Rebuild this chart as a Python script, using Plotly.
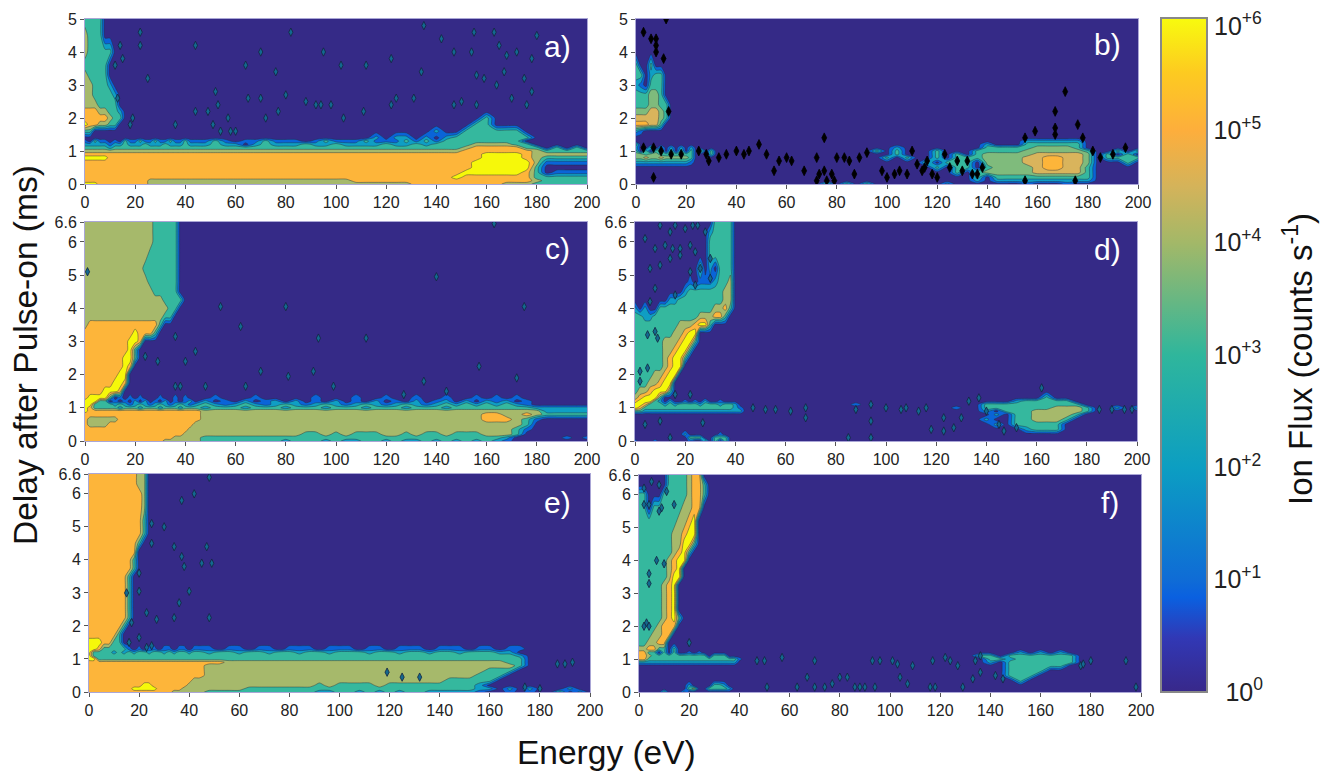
import plotly.graph_objects as go

ENERGY = [0,2,4,6,8,10,12,14,16,18,20,22,24,26,28,30,32,34,36,38,40,42,44,
          48,52,56,60,64,68,72,76,80,84,88,92,96,100,104,108,112,116,120,124,128,132,136,140,144,
          148,152,156,160,164,168,172,176,180,184,188,192,196,200]
DELAY_5 = [5,4.5,4,3.6,3.3,3,2.7,2.4,2.2,2,1.8,1.6,1.4,1.3,1.2,1.1,1,.9,.8,.65,.5,.35,.2,.1,0]
DELAY_66 = [6.6,6.3,6,5.6,5.2,4.8,4.5,4.25,4,3.75,3.5,3.25,3,2.75,2.5,2.25,2,1.75,1.5,1.3,1.2,1.1,1,.9,.8,.65,.5,.35,.2,.1,0]

# log10(flux) bands per grid cell, top row first; a row's last digit repeats to the right edge.
FLUX_A = [
"33330","43330","43333 30","33333 0","43333 0","44333 20","44333 320","44433 330",
"55544 33200 0",
"55555 43300 00000 00000 000 00000 00000 00000 00000 00000 00030 0",
"65544 33000 00000 00000 000 00000 00000 00000 00000 00000 00330 00000 0",
"33000 00000 00000 00000 000 00000 00000 00000 00000 00020 03333 33000 0",
"00000 00000 00000 00000 000 00000 00000 00000 00202 20202 33333 33300 0",
"10311 01031 13113 11311 311 13101 13111 01311 13111 31313 33333 33000 0",
"22222 12232 22322 23222 322 23220 23222 32232 22232 23233 33444 43300 0",
"33333 23333 33333 33333 333 33333 33333 33333 33333 33333 34555 55330 3030",
"44444 44444 44444 44444 444 44444 44444 44444 44444 44444 45555 55543 3333",
"55555 55555 55555 55555 555 55555 55555 55555 55555 55555 55566 66544 4444",
"66666 55555 55555 55555 555 55555 55555 55555 55555 55555 55566 66543 3333",
"55555 55555 55555 55555 555 55555 55555 55555 55555 55555 55666 66641 1111",
"55555 55555 55555 55555 555 55555 55555 55555 55555 55555 55666 66630 0000",
"55555 55555 55555 55555 555 55555 55555 55555 55555 55555 56666 66530 1111",
"55555 55555 55555 55555 555 55555 55555 55555 55555 55555 65555 55533 3333",
"55555 55555 55544 44444 444 44444 44444 44444 55555 55555 55555 55543 3333",
"66655 55555 55544 44444 444 44444 44444 44444 44444 45555 55555 44433 3333",
]
FLUX_B = [
"0","0","0","30030 0","33023 30","21033 30","33344 30","33344 330","44455 430","55555 430","66655 300","21000",
"0",
"00000 00000 00000 00000 000 00000 00000 00000 00000 00000 00222 22200 0",
"30000 00000 00000 00000 000 00000 00000 00000 00000 00020 00333 33300 0",
"20030 20202 02000 00000 000 00000 00000 00002 00000 00033 33344 44300 0",
"30303 30303 03030 30000 000 00000 00000 00303 00030 00333 33444 44430 0303",
"44344 33333 33000 30000 000 00000 00000 00003 00030 30344 44455 55540 3030",
"44544 54444 43000 00000 000 00000 00000 00030 30030 33344 44556 65540 3333",
"22222 22222 21000 00000 000 00000 00000 00000 00303 33044 44556 65540 0030",
"00000 00000 00000 00000 000 00000 00000 00000 00030 33034 44456 65530 0000",
"00000 00000 00000 00000 000 00000 00000 00000 00000 30344 44455 55530 0000",
"00000 00000 00000 00000 000 00000 00000 00000 00000 00303 33333 33330 0000",
"00000 00000 00000 00000 000 00000 00000 00000 00000 00202 22222 22220 0000",
"00000 00000 00000 00000 000 00000 00303 03000 00002 00000 00100 01000 0000",
]
FLUX_C = [
"44444 44444 44443 33330 0","44444 44444 44443 33330 0","44444 44444 44443 33330 0",
"44444 44444 44433 33330 0","44444 44444 44333 33330 0","44444 44444 44433 33330 0",
"44444 44444 44443 33330 0","44444 44444 44444 43333 0","44444 44444 44444 44330 0",
"44444 44444 44444 43300 0","45555 55555 55555 30000 0","55555 55555 65553 0",
"55555 55556 65000 0","55555 55556 30000 0","55555 55566 30000 0","55555 55565 0",
"55555 55660 0","55555 56650 0","55556 66500 0",
"56666 30101 01000 10010 100 01000 10000 01000 10010 01001 00101 01000 0",
"66633 01010 20201 02010 120 20102 01202 01020 10201 02012 02021 20100 0",
"66333 32321 23212 32123 212 32123 21232 12321 23212 32123 23232 32100 0",
"65333 33233 32333 23332 333 23332 33323 33233 32333 23332 33333 33322 2222",
"65555 55555 55555 55555 555 44444 44444 44444 44444 44444 44444 44442 2222",
"55555 55555 55555 55555 555 44444 44444 44444 44444 44444 44455 44543 3333",
"54444 44555 55555 55555 555 44444 44444 44444 44444 44444 44455 54310 0000",
"54444 55555 55555 55555 554 44444 44444 44444 44444 44444 44444 44300 0000",
"55555 55555 55555 55555 544 44444 44444 44444 44444 44444 44444 43100 0000",
"55555 55555 55555 55555 444 44444 44444 33434 33344 34334 33344 43000 0000",
"55555 55555 55555 55544 444 33333 33333 33333 33333 33333 33333 20000 0101",
"55555 55555 55555 54444 444 33333 33323 33232 23323 22323 23232 10000 0000",
]
FLUX_D = [
"00000 00000 00000 03333 0","00000 00000 00000 23333 0","00000 00000 00000 33333 0",
"00000 00000 00000 33333 0","00000 00000 00030 20333 0","00000 00000 01011 12334 0",
"00000 00000 23333 33344 0","00000 00223 33333 33344 0","20200 33333 33333 34453 0",
"33223 33333 33344 45530 0","33333 33334 44566 30000 0","33333 33344 56600 0",
"33333 34445 66300 0","33333 34456 63000 0","33333 34566 30000 0","33333 34566 0",
"33334 45660 0","33344 56600 0","34456 66300 0",
"45666 30000 00000 00000 000 00000 00000 00000 00000 00000 00003 0",
"56663 20200 10102 00100 000 00000 00000 00000 00000 00000 02333 33000 0",
"66533 32323 33323 33233 200 00000 00000 10000 00000 00033 33333 33300 0",
"65333 33333 33333 33333 210 00000 00000 00000 00000 10033 33333 44430 0202",
"33222 22222 22222 22222 220 00000 00000 00000 00000 00020 33344 44430 0000",
"00000 00000 00000 00000 000 00000 00000 00000 00000 00002 03344 44300 0000",
"00000 00000 00000 00000 000 00000 00000 00000 00000 00020 03344 43000 0",
"00000 00000 00000 00000 000 00000 00000 00000 00000 00002 03333 30000 0",
"00000 00000 00000 00000 000 00000 00000 00000 00000 00000 00233 30000 0",
"00000 00000 20000 00100 0","00000 00000 03330 03330 0","10001 00000 01003 03030 0",
]
FLUX_E = [
"55555 55555 44000 0","55555 55555 44000 0","55555 55555 54000 0","55555 55555 54000 0",
"55555 55555 53000 0","55555 55555 53000 0","55555 55555 30000 0","55555 55555 00000 0",
"55555 55553 0","55555 55553 0","55555 55530 0","55555 55530 0","55555 55530 0",
"55555 55530 0","55555 55530 0","55555 55530 0","55555 55300 0","55555 53000 0","66655 33000 0",
"66533 33310 10110 11011 011 10110 11011 10111 01101 11011 10110 11000 0",
"63333 23232 33233 23233 233 23323 32332 33233 32332 33233 23332 20000 0",
"63333 33333 33333 33333 333 33333 33333 33333 33333 33333 33333 32000 0",
"66333 33333 33333 33333 333 33333 33333 33333 33333 33333 33333 33000 0",
"55555 55555 55555 55555 555 55444 44444 44444 44444 44444 44444 33000 0",
"55555 55555 55555 55555 555 44444 44444 44444 44444 44444 44444 43000 0",
"55555 55555 55555 55555 555 44444 44444 44444 44444 44444 44433 30000 0",
"55555 55555 55555 55555 555 44444 44444 44444 44444 44444 44333 00000 0",
"55555 55555 55555 55555 544 44444 44444 44444 44444 44443 33330 00000 0",
"55555 55555 56655 55555 444 44444 44444 43433 33433 33333 33200 00000 0",
"55555 55556 66665 55554 444 44443 33333 33333 33333 33333 33220 20200 0200",
"55555 55555 55555 55444 444 33333 33333 32233 23232 33222 22100 10100 3020",
]
FLUX_F = [
"00000 03333 45500 0","00000 03333 45530 0","33000 33333 45530 0","33033 33334 45500 0",
"33333 33344 56000 0","33333 33445 66000 0","33333 33446 63000 0","33333 33456 30000 0",
"33333 34566 0","33333 34560 0","33333 34660 0","33333 45600 0","33333 45600 0",
"33333 45600 0","33333 45600 0","33333 45630 0","33334 55500 0","33344 55000 0","33445 50000 0",
"44553 30300 00000 00000 000 00000 00000 00000 00000 00000 00000 00000 0",
"55330 30300 10100 00000 000 00000 00000 00000 00000 00000 02020 20000 0",
"55433 33333 33330 33300 000 00000 00000 00000 00000 00330 33333 33000 0",
"55333 33333 33333 33333 100 00000 00000 00000 00000 00033 23333 33000 0",
"22222 22222 22222 22222 000 00000 00000 00000 00000 00020 33333 33000 0",
"00000 00000 00000 00000 000 00000 00000 00000 00000 00000 33333 30000 0",
"00000 00000 00000 00000 000 00000 00000 00000 00000 00000 33330 0",
"00000 00000 00000 00000 000 00000 00000 00000 00000 00000 33300 0",
"00000 00000 00000 00000 000 00000 00000 00000 00000 00000 03000 0",
"00000 00000 20000 33200 0","00000 00000 34003 33320 0","00000 30002 0",
]

# Isolated single-cell peaks (energy, delay)
PEAKS_A_X = [22,22,14,15,25,44,82,70,95,64,76,102,112,122,134,135,142,147,154,156,155,163,165,168,172,180,178,175,159,167,164,70,80,88,92,94,98,65,52,53,44,49,19,18,36,51,57,54,58,60,72,77,103,111,122,124,131,147,150,156,170,176,178,12,13]
PEAKS_A_Y = [4.6,4.2,4.2,3.8,3.2,4.2,4.6,4,4,3.6,3.4,3.6,3.6,3.8,3.4,4.8,4.4,4,4,3.3,4.6,4.6,4.2,3.9,4,4.5,3.8,3.2,3.2,3.4,3,2.6,2.7,2.5,2.4,2.4,2.4,2.6,2.8,2.4,2.2,2.2,2,1.8,1.8,1.8,2,1.6,1.6,1.6,2,2.2,2,2.2,2.4,2.6,2.6,2.4,2.5,2.4,2.6,2.4,2.8,3.6,2.6]
PEAKS_B_X = [12,3,6,8,8,11,8,13,171,167,167,176,159,155,167,178,75,49,45,43,40,36,33,29,52,55,57,60,62,67,72,73,75,78,80,83,85,87,89,92,98,100,103,108,105,110,112,114,116,118,120,123,125,128,130,132,134,136,138,7,7,3,10,14,18,25,28,182,185,190,195,155,175,115,72,76,79]
PEAKS_B_Y = [5,4.6,4.4,4.4,4,3.8,4.2,2.2,2.8,2.2,1.7,1.8,1.6,1.4,1.5,1.4,1.4,1.2,1,.9,1,.9,.8,.7,.9,.4,.7,.8,.7,.4,.8,.3,.4,.3,.8,.8,.7,.3,.8,.95,.4,.2,.3,.3,.4,1,.6,.4,.7,.3,.2,.9,.5,.7,.4,.7,.3,.3,.5,.2,1.1,1.1,1,.9,.9,1,.9,1,.8,.9,1.1,.1,.1,.5,.1,.1,.1]
PEAKS_C_X = [163,140,54,80,175,62,36,93,112,44,24,29,40,70,91,81,157,172,38,36,48,64,99,135,144,127,1]
PEAKS_C_Y = [6.55,4.95,4.05,4.05,4.05,3.45,3.15,3.1,3.1,2.7,2.55,2.4,2.4,2.1,2.1,1.95,2.25,1.9,1.65,1.65,1.65,1.65,1.65,1.8,1.5,1.4,5.1]
PEAKS_D_X = [10,4,14,16,20,23,25,28,8,12,15,18,22,6,10,14,18,8,22,26,24,9,5,2,2,5,8,16,22,27,62,68,68,88,94,94,100,106,108,113,116,118,123,123,127,130,133,137,140,162,185,190,195,198,4,10,14,85,94,47,52,56,145,147,152,6,16,30,30,24]
PEAKS_D_Y = [6.5,6.1,6.3,6.5,6.4,6.5,6.5,6.3,5.8,5.9,5.8,5.8,5.9,5.2,5.3,5.5,5.6,4.6,5.1,5.2,5.7,3.1,3.2,2.1,1.8,2.2,3.3,1.4,1.4,.55,.9,1,.7,.95,1.1,.6,1,.95,1,.9,1,.35,.7,.3,.4,.7,1.2,1.3,.9,1.6,.95,.95,.95,.95,.5,.6,.1,.1,.1,1,.95,.95,.5,.3,.4,4.2,4.4,4.9,5.5,4.7]
PEAKS_E_X = [48,42,37,25,30,34,25,47,37,45,49,38,20,15,20,40,36,17,23,27,34,48,16,20,23,25,119,125,132,174,180,187,190,193]
PEAKS_E_Y = [6.5,6,5.8,5.1,5,4.4,4.5,4.4,4.1,3.9,3.9,3.8,3.6,3,3.05,3.05,2.7,2.1,2.4,2.2,2.25,2.25,1.5,1.65,1.35,1.4,.6,.45,.45,.15,.1,.85,.85,.9]
PEAKS_F_X = [20,4,7,9,2,4,8,14,4,10,3,2,4,47,50,57,70,93,96,101,103,109,117,122,124,127,134,136,176,177,180,194,63,70,74,77,80,83,86,88,90,94,104,107,116,118,129,133,198,51,67,2,5,8,11,136,142,145]
PEAKS_F_Y = [1.5,3.6,4,5.6,5.7,5.7,5.5,5.7,3.3,3.9,2.1,2,2,.95,.95,1.05,.95,.95,.95,.95,.85,.8,.95,1.05,.95,.8,.95,1.1,.8,.85,.95,.95,.15,.15,.15,.25,.45,.45,.15,.15,.15,.15,.45,.25,.15,.15,.15,.4,.15,.15,.45,6.2,6.4,6.3,6.1,.6,.5,.4]

TICKS_X = [0,20,40,60,80,100,120,140,160,180,200]
CBAR_TICKS = [0,1,2,3,4,5]
CBAR_TEXT = ["\u00a0\u200910<sup>0</sup>","10<sup>+1</sup>","10<sup>+2</sup>","10<sup>+3</sup>","10<sup>+4</sup>","10<sup>+5</sup>"]
CBAR_TOP = "10<sup>+6</sup>"

OX, OY = 8, 8
W, H = 1318, 766
FONT = "Liberation Sans"
BAND = ["#352a87","#0a64d8","#0f9ec4","#35b89e","#a6b96b","#fdb53a","#f6f80a"]
BAND_B = ["#352a87","#0a64d8","#0f9ec4","#35b89e","#7fbb7c","#d9b45c","#fdb53a"]
SMOOTH = [[0,"#38288a"],[.08,"#3138b5"],[.14,"#0a60e0"],[.1667,"#0f6cd6"],[.333,"#0c9ec2"],[.5,"#2fb69c"],
          [.667,"#a3b868"],[.75,"#d4b35a"],[.833,"#fdae3c"],[.92,"#fdcb20"],[1,"#f8fb0e"]]

def fx(p): return (p-OX)/W
def fy(p): return 1-(p-OY)/H

def scale(cols):
    return [[i/6, c] for i, c in enumerate(cols)]

def grid(rows, ys):
    assert len(rows) == len(ys), (len(rows), len(ys))
    out = []
    for r in rows[::-1]:
        s = r.replace(" ", "")
        s = (s + s[-1]*len(ENERGY))[:len(ENERGY)]
        out.append([int(c) for c in s])
    return out

PANELS = [
 ("", FLUX_A, DELAY_5, 85, 587, 19, 184, 5, "a)", 557, 47, BAND, PEAKS_A_X, PEAKS_A_Y, "#12698f"),
 ("2", FLUX_B, DELAY_5, 636, 1138, 19, 184, 5, "b)", 1107, 45, BAND_B, PEAKS_B_X, PEAKS_B_Y, "#000000"),
 ("3", FLUX_C, DELAY_66, 85, 587, 222, 441, 6.6, "c)", 557, 248, BAND, PEAKS_C_X, PEAKS_C_Y, "#12698f"),
 ("4", FLUX_D, DELAY_66, 635, 1137, 222, 441, 6.6, "d)", 1107, 249, BAND, PEAKS_D_X, PEAKS_D_Y, "#12698f"),
 ("5", FLUX_E, DELAY_66, 89, 590, 474, 692, 6.6, "e)", 557, 502, BAND, PEAKS_E_X, PEAKS_E_Y, "#12698f"),
 ("6", FLUX_F, DELAY_66, 639, 1141, 475, 692, 6.6, "f)", 1110, 502, BAND, PEAKS_F_X, PEAKS_F_Y, "#12698f"),
]

fig = go.Figure()
layout = {}
annots = []
for sfx, rows, ys, x0, x1, y0, y1, ymax, lab, lx, ly, cols, px, py, pc in PANELS:
    xa, ya = "x"+sfx, "y"+sfx
    fig.add_trace(go.Contour(x=ENERGY, y=ys[::-1], z=grid(rows, ys), xaxis=xa, yaxis=ya, zmin=0, zmax=6,
        colorscale=scale(cols), showscale=False, hoverinfo="skip",
        contours=dict(start=.5, end=5.5, size=1, coloring="fill", showlines=True),
        line=dict(color="rgba(35,45,60,.55)", width=.8, smoothing=.6)))
    black = pc == "#000000"
    fig.add_trace(go.Scatter(x=px, y=py, xaxis=xa, yaxis=ya, mode="markers", hoverinfo="skip", showlegend=False,
        marker=dict(symbol="diamond-tall", size=7 if black else 6, color=pc,
                    line=dict(color="#000000" if black else "#14233f", width=.8))))
    ticks_y = [0,1,2,3,4,5] if ymax == 5 else [0,1,2,3,4,5,6,6.6]
    common = dict(showline=True, mirror=True, linecolor="#aaa6d6", linewidth=1, ticks="outside", ticklen=4,
                  tickcolor="#555", tickfont=dict(family=FONT, size=16, color="#222"), showgrid=False, zeroline=False)
    layout["xaxis"+sfx] = dict(domain=[fx(x0), fx(x1)], range=[0,200], anchor=ya, tickvals=TICKS_X, **common)
    layout["yaxis"+sfx] = dict(domain=[fy(y1), fy(y0)], range=[0,ymax], anchor=xa, tickvals=ticks_y,
                               ticktext=[str(t) for t in ticks_y], **common)
    annots.append(dict(text=lab, x=fx(lx), y=fy(ly), xref="paper", yref="paper", showarrow=False,
                       xanchor="center", yanchor="middle", font=dict(family=FONT, size=30, color="white")))

fig.add_trace(go.Scatter(x=[-50], y=[-50], mode="markers", hoverinfo="skip", showlegend=False,
    marker=dict(color=[0], cmin=0, cmax=6, colorscale=SMOOTH, showscale=True,
        colorbar=dict(x=fx(1161), xanchor="left", y=fy(18), yanchor="top", lenmode="pixels", len=674,
                      thicknessmode="pixels", thickness=46, xpad=0, ypad=0, outlinecolor="#888", outlinewidth=2,
                      tickmode="array", tickvals=CBAR_TICKS, ticktext=CBAR_TEXT, ticks="",
                      tickfont=dict(family=FONT, size=25, color="#222")))))
shapes = [dict(type="line", xref="paper", yref="paper", x0=fx(1198), x1=fx(1207),
               y0=fy(692-112.3*k), y1=fy(692-112.3*k), line=dict(color="#666", width=2), layer="above")
          for k in CBAR_TICKS[1:]]
annots += [
 dict(text=CBAR_TOP, x=fx(1212), y=fy(24), xref="paper", yref="paper", showarrow=False,
      xanchor="left", yanchor="middle", font=dict(family=FONT, size=25, color="#222")),
 dict(text="Delay after Pulse-on (ms)", x=fx(25), y=fy(355), textangle=-90, xref="paper", yref="paper", showarrow=False,
      xanchor="center", yanchor="middle", font=dict(family=FONT, size=33.5, color="#111")),
 dict(text="Energy (eV)", x=fx(606), y=fy(752), xref="paper", yref="paper", showarrow=False,
      xanchor="center", yanchor="middle", font=dict(family=FONT, size=33.5, color="#111")),
 dict(text="Ion Flux (counts s<sup>-1</sup>)", x=fx(1298), y=fy(359), textangle=-90, xref="paper", yref="paper", showarrow=False,
      xanchor="center", yanchor="middle", font=dict(family=FONT, size=33, color="#111")),
]
fig.update_layout(width=W, height=H, margin=dict(l=0,r=0,t=0,b=0,autoexpand=False), plot_bgcolor="#352a87", paper_bgcolor="white",
                  showlegend=False, annotations=annots, shapes=shapes, **layout)
fig.write_html("out.html")
